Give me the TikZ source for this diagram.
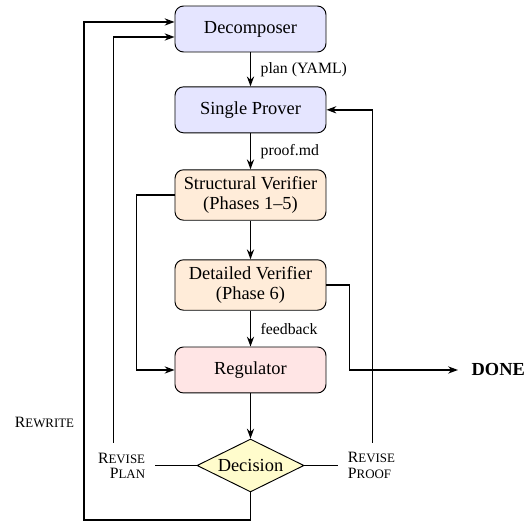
\documentclass[tikz,border=0pt]{standalone}
\usepackage{fontspec}
\setmainfont{Liberation Serif}
\usepackage{tikz}
\usetikzlibrary{arrows.meta,%
                shapes.geometric}
\newcommand{\fakesc}[2]{#1{\fontsize{6.8}{8}\selectfont #2}}

\begin{document}
\begin{tikzpicture}[transform shape,
  box/.style={draw, line width=0.5pt, rounded corners=4.5pt, minimum width=2.795cm,
              minimum height=0.851cm, align=center, font=\fontsize{9.7}{11}\selectfont},
  decide/.style={draw, line width=0.5pt, diamond, aspect=2, inner sep=0pt, fill=yellow!20,
                 minimum width=1.98cm, minimum height=0.98cm, font=\fontsize{9.7}{11}\selectfont},
  tag/.style={font=\fontsize{8.3}{8}\selectfont, inner sep=5pt},
  flow/.style={-{Stealth[length=5.2pt,width=3.8pt]}, line width=0.75pt},
  link/.style={line width=0.75pt}]
\useasboundingbox (-4.637,0.537) rectangle (5.063,-9.107);

\node[box, fill=blue!10] (dec) at (0,0) {Decomposer};
\node[box, fill=blue!10] (prov) at (0,-1.496) {Single Prover};
\node[box, fill=orange!15] (sver) at (0,-3.073) {Structural Verifier\\(Phases 1--5)};
\node[box, fill=orange!15] (dver) at (0,-4.739) {Detailed Verifier\\(Phase 6)};
\node[box, fill=red!10] (reg) at (0,-6.312) {Regulator};
\node[decide] (dcs) at (0,-8.080) {Decision};

\node[tag, anchor=east, align=right] (rplan) at (-1.768,-8.080) {\fakesc{R}{EVISE}\\\fakesc{P}{LAN}};
\node[tag, anchor=west, align=left] (rproof) at (1.620,-8.080) {\fakesc{R}{EVISE}\\\fakesc{P}{ROOF}};
\node[tag, anchor=east] (rwr) at (-3.082,-7.274) {\fakesc{R}{EWRITE}};
\node[anchor=west, inner sep=7pt, font=\fontsize{9.7}{11}\selectfont\bfseries] (done) at (3.841,-6.312) {DONE};

\coordinate (rwc) at (-3.082,-9.089);
\coordinate (rpc) at (-2.532,-7.663);
\coordinate (rfc) at (2.258,-7.663);

\draw[flow] (dec) -- node[tag, right] {plan (YAML)} (prov);
\draw[flow] (prov) -- node[tag, right] {proof.md} (sver);
\draw[flow] (sver) -- (dver);
\draw[flow] (dver) -- node[tag, right] {feedback} (reg);
\draw[flow] (reg) -- (dcs);
\draw[flow] (sver.west) -- ++(-0.709,0) |- (reg.west);
\draw[flow] (dver.east) -- ++(0.426,0) |- (done.west);

\draw[link] (dcs.west) -- (rplan.east);
\draw[link] (dcs.east) -- (rproof.west);
\draw[flow] (rpc) |- ([yshift=-0.148cm]dec.west);
\draw[flow] (rfc) |- (prov.east);
\draw[flow] (dcs.south) |- (rwc) |- ([yshift=0.13cm]dec.west);
\end{tikzpicture}
\end{document}
